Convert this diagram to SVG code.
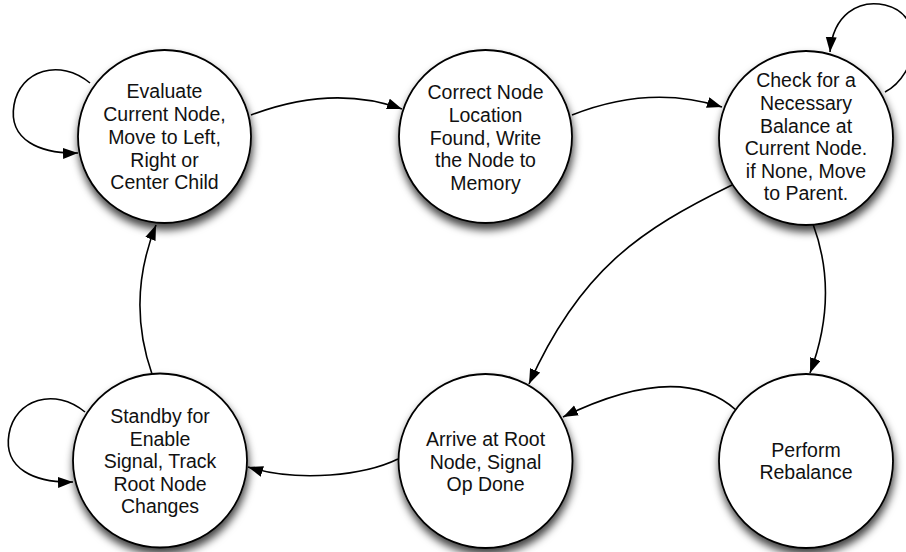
<svg xmlns="http://www.w3.org/2000/svg" width="906" height="552" viewBox="0 0 906 552">
<style>
.node circle{fill:#fff;stroke:#000;stroke-width:1.8;filter:url(#sh)}
.node text{font-family:"Liberation Sans",Arial,sans-serif;font-size:19.5px;fill:#111;text-anchor:middle}
.edge{fill:none;stroke:#000;stroke-width:1.6;marker-end:url(#ah)}
</style>
<defs>
<filter id="sh" x="-20%" y="-20%" width="140%" height="150%">
<feDropShadow dx="1" dy="6" stdDeviation="4" flood-color="#000" flood-opacity="0.75"/>
</filter>
<marker id="ah" markerUnits="userSpaceOnUse" markerWidth="16" markerHeight="12" refX="15" refY="5.5" orient="auto">
<path d="M0,0 L15,5.5 L0,11 Z" fill="#000"/>
</marker>
</defs>
<rect width="906" height="552" fill="#fff"/>
<g id="connectors">
<path class="edge" d="M251,115 Q333,84 402,109"/>
<path class="edge" d="M572,115 Q650,84 722,107"/>
<path class="edge" d="M885,92 C918,75 928,15 885,5 C858,-1 833,15 830,52"/>
<path class="edge" d="M732,185 C640,230 580,270 529,384"/>
<path class="edge" d="M813,224 C830,270 830,320 810,373"/>
<path class="edge" d="M736,410 Q680,360 563,417"/>
<path class="edge" d="M398,459 C365,475 300,483 248,467"/>
<path class="edge" d="M152,374 Q126,300 156,225"/>
<path class="edge" d="M90,83 C60,58 20,70 14,105 C8,140 40,154 78,153"/>
<path class="edge" d="M85,412 C55,387 15,399 9,434 C3,469 35,483 73,482"/>
</g>
<g id="n1" class="node">
<circle cx="164.5" cy="136.5" r="86.5"/>
<text x="164.5" y="98.3">Evaluate</text>
<text x="164.5" y="121">Current Node,</text>
<text x="164.5" y="143.8">Move to Left,</text>
<text x="164.5" y="166.5">Right or</text>
<text x="164.5" y="189.3">Center Child</text>
</g>
<g id="n2" class="node">
<circle cx="485.5" cy="136.5" r="86.5"/>
<text x="485.5" y="99.3">Correct Node</text>
<text x="485.5" y="122">Location</text>
<text x="485.5" y="144.5">Found, Write</text>
<text x="485.5" y="167">the Node to</text>
<text x="485.5" y="189.5">Memory</text>
</g>
<g id="n3" class="node">
<circle cx="806" cy="138" r="87"/>
<text x="806" y="87.3">Check for a</text>
<text x="806" y="110">Necessary</text>
<text x="806" y="132.5">Balance at</text>
<text x="806" y="155">Current Node.</text>
<text x="806" y="177.5">if None, Move</text>
<text x="806" y="200">to Parent.</text>
</g>
<g id="n4" class="node">
<circle cx="160" cy="460.5" r="87"/>
<text x="160" y="423.3">Standby for</text>
<text x="160" y="445.8">Enable</text>
<text x="160" y="468.3">Signal, Track</text>
<text x="160" y="490.8">Root Node</text>
<text x="160" y="513.3">Changes</text>
</g>
<g id="n5" class="node">
<circle cx="485.5" cy="461" r="87"/>
<text x="485.5" y="446">Arrive at Root</text>
<text x="485.5" y="468.5">Node, Signal</text>
<text x="485.5" y="491">Op Done</text>
</g>
<g id="n6" class="node">
<circle cx="806" cy="461" r="87"/>
<text x="806" y="456.7">Perform</text>
<text x="806" y="479.3">Rebalance</text>
</g>
</svg>
